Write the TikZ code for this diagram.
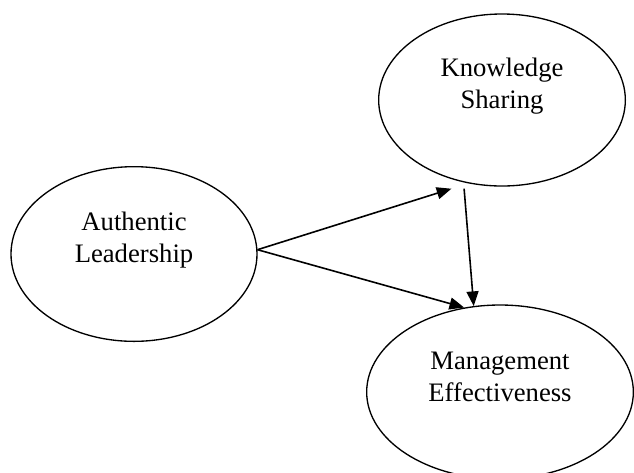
\documentclass[tikz,border=0pt]{standalone}
\usepackage{fontspec}
\setmainfont{Liberation Serif}
\usetikzlibrary{shapes.geometric,arrows.meta}

\begin{document}
\begin{tikzpicture}[
  x=0.75pt, y=-0.75pt,
  font=\fontsize{20}{24}\selectfont,
  var/.style={draw, ellipse, line width=1pt, align=center, inner sep=0pt},
  arr/.style={-{Triangle[length=11pt, width=9pt]}, line width=1.2pt}]
\useasboundingbox (0,0) rectangle (634,472);
\node[var, minimum width=184.5pt, minimum height=131pt, text depth=25pt] (al) at (134,254) {Authentic\\Leadership};
\node[var, minimum width=185pt, minimum height=129pt, text depth=25pt] (ks) at (502,100) {Knowledge\\Sharing};
\node[var, minimum width=200pt, minimum height=130.5pt, text depth=23pt] (me) at (500,392) {Management\\Effectiveness};
% paths between the three constructs
\draw[arr, shorten >=13.3pt] (al.2) -- (ks.248);
\draw[arr] (al.2) -- (me.113);
\draw[arr, shorten <=4.7pt] (ks.245) -- (me.107);
\end{tikzpicture}
\end{document}
